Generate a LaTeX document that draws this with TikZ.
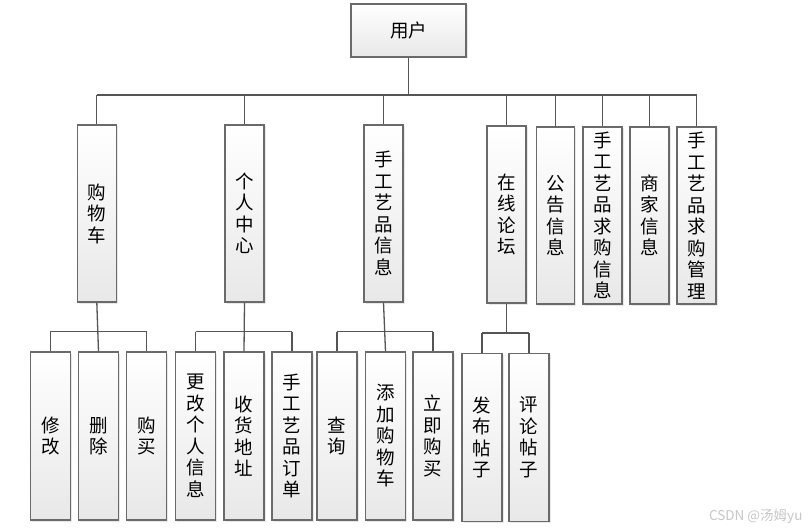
\documentclass[tikz,border=0pt]{standalone}
\usepackage{fontspec}
\setmainfont{Noto Sans CJK SC}
\usetikzlibrary{shadows}
\definecolor{edgec}{HTML}{555555}
\definecolor{boxc}{HTML}{6A6A6A}
\definecolor{botc}{HTML}{E8E8E8}
\begin{document}
\begin{tikzpicture}[x=1pt,y=-1pt,
  box/.style={draw=boxc, line width=1.1pt, top color=white, bottom color=botc,
    inner sep=0pt, align=center, font=\fontsize{18.5}{21.5}\selectfont,
    drop shadow={shadow xshift=1.5pt, shadow yshift=-1.5pt, opacity=0.18}},
  midbox/.style={box, minimum width=39pt, minimum height=177pt},
  lowbox/.style={box, minimum width=40pt, minimum height=168pt},
  conn/.style={draw=edgec, line width=1.3pt}]
\useasboundingbox (0,0) rectangle (812,532);
\fill[white] (0,0) rectangle (812,532);

\node[box, minimum width=115pt, minimum height=53pt] (user) at (408.5,30.5) {用户};

\node[midbox] (gwc) at (96.8,213.5) {购\\物\\车};
\node[midbox] (grzx) at (244.5,213.5) {个\\人\\中\\心};
\node[midbox] (sgyp) at (383.5,213.5) {手\\工\\艺\\品\\信\\息};
\node[midbox] (zxlt) at (506.5,214.5) {在\\线\\论\\坛};
\node[midbox, minimum width=38pt] (ggxx) at (555.5,215.5) {公\\告\\信\\息};
\node[midbox] (qgxx) at (602.5,215.5) {手\\工\\艺\\品\\求\\购\\信\\息};
\node[midbox] (sjxx) at (649.5,215.5) {商\\家\\信\\息};
\node[midbox] (qggl) at (696.5,215.5) {手\\工\\艺\\品\\求\\购\\管\\理};

\node[lowbox] (xg) at (50.3,436) {修\\改};
\node[lowbox] (sc) at (98.5,436) {删\\除};
\node[lowbox] (gm) at (146.5,436) {购\\买};
\node[lowbox] (ggrxx) at (195.5,436) {更\\改\\个\\人\\信\\息};
\node[lowbox] (shdz) at (244,436) {收\\货\\地\\址};
\node[lowbox] (sgdd) at (292,436) {手\\工\\艺\\品\\订\\单};
\node[lowbox] (cx) at (337,436) {查\\询};
\node[lowbox] (tjgwc) at (385.5,436) {添\\加\\购\\物\\车};
\node[lowbox] (ljgm) at (433,436) {立\\即\\购\\买};
\node[lowbox] (fbtz) at (482,437.5) {发\\布\\帖\\子};
\node[lowbox] (pltz) at (529,437.5) {评\\论\\帖\\子};

% top level
\coordinate (b0) at (0,95);
\draw[conn] (user.south) -- (user.south |- b0);
\draw[conn] (b0 -| gwc) -- (b0 -| qggl);
\foreach \n in {gwc,grzx,sgyp,zxlt,ggxx,qgxx,sjxx,qggl}
  \draw[conn] (b0 -| \n) -- (\n.north);

% second level
\coordinate (b1) at (0,331.5);
\draw[conn] (gwc.south) -- (sc.north);
\draw[conn] (b1 -| xg) -- (b1 -| gm);
\foreach \n in {xg,gm} \draw[conn] (b1 -| \n) -- (\n.north);

\draw[conn] (grzx.south) -- (shdz.north);
\draw[conn] (b1 -| ggrxx) -- (b1 -| sgdd);
\foreach \n in {ggrxx,sgdd} \draw[conn] (b1 -| \n) -- (\n.north);

\draw[conn] (sgyp.south) -- (tjgwc.north);
\draw[conn] (b1 -| cx) -- (b1 -| ljgm);
\foreach \n in {cx,ljgm} \draw[conn] (b1 -| \n) -- (\n.north);

\coordinate (b2) at (0,333);
\draw[conn] (zxlt.south) -- (zxlt.south |- b2);
\draw[conn] (b2 -| fbtz) -- (b2 -| pltz);
\foreach \n in {fbtz,pltz} \draw[conn] (b2 -| \n) -- (\n.north);

\node[text=black!22, font=\fontsize{13.5}{15}\selectfont, anchor=east] (wm) at (806,516) {CSDN @汤姆yu};
\end{tikzpicture}
\end{document}
